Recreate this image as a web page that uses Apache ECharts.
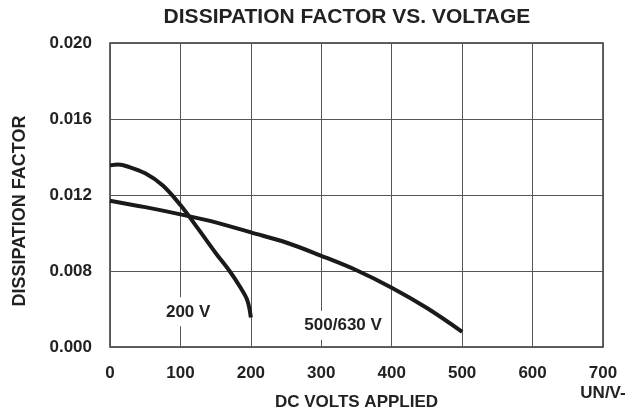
<!DOCTYPE html>
<html><head><meta charset="utf-8">
<script src="https://cdn.jsdelivr.net/npm/echarts@6/dist/echarts.min.js"></script>
<style>html,body{margin:0;padding:0;background:#fff}#c{width:633px;height:417px}</style>
</head><body><div id="c"></div>
<script>
const titleText = 'DISSIPATION FACTOR VS. VOLTAGE';
const xName = 'DC VOLTS APPLIED';
const yName = 'DISSIPATION FACTOR';
const yTickLabels = ['0.000', '0.008', '0.012', '0.016', '0.020'];
const xTickLabels = ['0', '100', '200', '300', '400', '500', '600', '700'];
const xUnit = 'UN/V-';

const volts200 = [0, 12, 25, 50, 75, 100, 125, 150, 170, 185, 195, 200];
const df200 = [0.01356, 0.0136, 0.0135, 0.01314, 0.0125, 0.01147, 0.01023, 0.00895, 0.00797, 0.00628, 0.0049, 0.0031];

const volts500 = [0, 50, 100, 150, 200, 250, 300, 350, 400, 450, 500];
const df500 = [0.0117, 0.01136, 0.01098, 0.01056, 0.01003, 0.0095, 0.0088, 0.00804, 0.00624, 0.0041, 0.0016];

const curveNames = ['200 V', '500/630 V'];
const labelVolts = [111, 331];
const labelDF = [0.0037, 0.0023];

// the axis is drawn with equal bands: 0.000-0.008, then 0.004 per band
function toAxis(df) { return df >= 0.008 ? 1 + (df - 0.008) / 0.004 : df / 0.008; }

const FONT = 'Liberation Sans';
const TXT = '#222';

const chart = echarts.init(document.getElementById('c'), null, { renderer: 'canvas' });
chart.setOption({
  animation: false,
  backgroundColor: '#fff',
  title: {
    text: titleText, left: 347, top: 7, padding: 0, textAlign: 'center',
    textStyle: { fontFamily: FONT, fontWeight: 'bold', fontSize: 21, color: TXT }
  },
  grid: { left: 110, right: 30, top: 43, bottom: 70, show: true, borderColor: '#333', borderWidth: 1.5,
    containLabel: false, outerBoundsMode: 'none' },
  xAxis: {
    type: 'value', min: 0, max: 700, interval: 100,
    name: xName, nameLocation: 'middle', nameGap: 47, nameMoveOverlap: false,
    nameTextStyle: { fontFamily: FONT, fontWeight: 'bold', fontSize: 17, color: TXT },
    axisLine: { show: false }, axisTick: { show: false },
    splitLine: { show: true, lineStyle: { color: '#555', width: 1 } },
    axisLabel: {
      margin: 16, fontFamily: FONT, fontWeight: 'bold', fontSize: 17, color: TXT, lineHeight: 20,
      formatter: v => { const i = Math.round(v / 100); return i === 7 ? xTickLabels[i] + '\n' + xUnit : xTickLabels[i]; }
    }
  },
  yAxis: {
    type: 'value', min: 0, max: 4, interval: 1,
    axisLine: { show: false }, axisTick: { show: false },
    splitLine: { show: true, lineStyle: { color: '#555', width: 1 } },
    axisLabel: { margin: 18, fontFamily: FONT, fontWeight: 'bold', fontSize: 17, color: TXT,
      formatter: v => yTickLabels[Math.round(v)] }
  },
  graphic: [{
    type: 'text', x: 20, y: 211, rotation: Math.PI / 2,
    style: { text: yName, textAlign: 'center', textVerticalAlign: 'middle', fontFamily: FONT, fontWeight: 'bold', fontSize: 18, fill: TXT }
  }],
  series: [
    {
      name: curveNames[0], type: 'line', smooth: 0.35, showSymbol: false, symbol: 'none',
      data: volts200.map((v, i) => [v, toAxis(df200[i])]),
      lineStyle: { color: '#1a1a1a', width: 4 }, z: 5
    },
    {
      name: curveNames[1], type: 'line', smooth: 0.35, showSymbol: false, symbol: 'none',
      data: volts500.map((v, i) => [v, toAxis(df500[i])]),
      lineStyle: { color: '#1a1a1a', width: 4 }, z: 5
    },
    {
      name: 'labels', type: 'scatter', symbol: 'rect', symbolSize: 1, z: 4,
      itemStyle: { color: '#fff', opacity: 1 },
      data: curveNames.map((n, i) => ({ value: [labelVolts[i], toAxis(labelDF[i])], name: n })),
      label: { show: true, position: 'inside', formatter: p => p.name, fontFamily: FONT, fontWeight: 'bold',
        fontSize: 17, color: TXT, opacity: 1, backgroundColor: '#fff', padding: [6, 2] },
      silent: true
    }
  ]
});
</script></body></html>
